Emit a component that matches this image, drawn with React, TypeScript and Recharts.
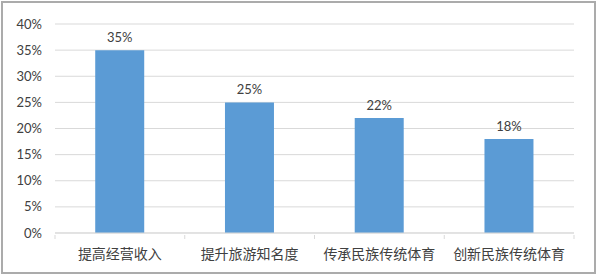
import { BarChart, Bar, XAxis, YAxis, CartesianGrid, LabelList } from "recharts";

const categories = ["提高经营收入", "提升旅游知名度", "传承民族传统体育", "创新民族传统体育"];
const shares = [0.35, 0.25, 0.22, 0.18];
const yTicks = [0, 0.05, 0.1, 0.15, 0.2, 0.25, 0.3, 0.35, 0.4];

const data = categories.map((name, i) => ({ name, value: shares[i] }));

const pct = (v: number) => `${Math.round(v * 100)}%`;

const CategoryTick = (props: any) => {
  const { x, y, payload, width, visibleTicksCount } = props;
  const half = width / visibleTicksCount / 2;
  return (
    <g>
      <line x1={x - half} y1={y - 8} x2={x - half} y2={y - 4} stroke="#d9d9d9" />
      {payload.index === visibleTicksCount - 1 && (
        <line x1={x + half} y1={y - 8} x2={x + half} y2={y - 4} stroke="#d9d9d9" />
      )}
      <text
        x={x}
        y={y + 16}
        textAnchor="middle"
        fill="#404040"
        fontSize={14}
        fontFamily="'Noto Sans CJK SC', sans-serif"
      >
        {payload.value}
      </text>
    </g>
  );
};

export default function App() {
  return (
    <div style={{ position: "relative", width: 597, height: 277, background: "#fff" }}>
      <style>{`body{margin:0}`}</style>
      <div
        style={{
          position: "absolute", left: 1, top: 1, width: 595, height: 273,
          border: "2px solid #ababab", boxSizing: "border-box",
        }}
      />
      <BarChart
        width={597}
        height={277}
        data={data}
        margin={{ top: 24, right: 23, bottom: 14, left: 10 }}
        barCategoryGap="31%"
        style={{ fontFamily: "Lato, sans-serif" }}
      >
        <CartesianGrid vertical={false} stroke="#d9d9d9" />
        <XAxis
          dataKey="name"
          height={30}
          axisLine={{ stroke: "#d9d9d9" }}
          tickLine={false}
          tickSize={8}
          tick={<CategoryTick />}
          interval={0}
        />
        <YAxis
          domain={[0, 0.4]}
          ticks={yTicks}
          tickFormatter={pct}
          width={45}
          axisLine={false}
          tickLine={false}
          tickSize={0}
          tickMargin={13}
          tick={{ fill: "#404040", fontSize: 13 }}
        />
        <Bar dataKey="value" fill="#5b9bd5" isAnimationActive={false}>
          <LabelList
            dataKey="value"
            position="top"
            offset={8}
            formatter={(v: any) => pct(Number(v))}
            fill="#404040"
            fontSize={13}
          />
        </Bar>
      </BarChart>
    </div>
  );
}
